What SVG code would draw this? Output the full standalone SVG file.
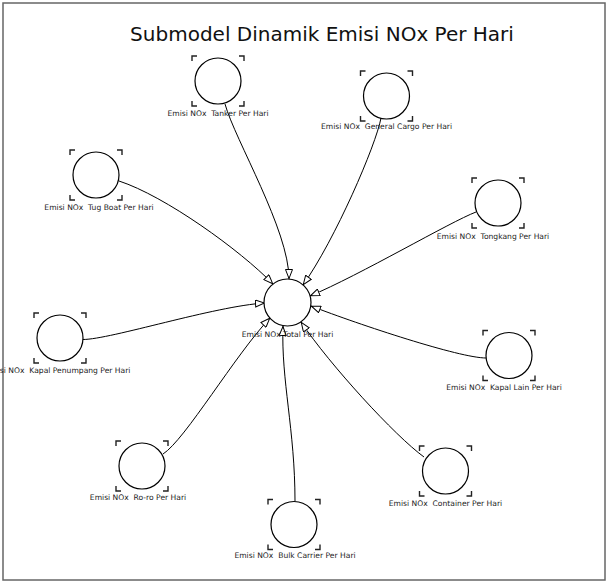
<svg xmlns="http://www.w3.org/2000/svg" xmlns:xlink="http://www.w3.org/1999/xlink" width="609" height="584" viewBox="0 0 609 584">
  <style>
    .frame { fill: none; stroke: #666666; stroke-width: 1.5; }
    .title { font-family: "DejaVu Sans", Verdana, sans-serif; font-size: 20px; fill: #111111; text-anchor: middle; }
    .aux { fill: #ffffff; stroke: #000000; stroke-width: 1.2; }
    .corner { fill: none; stroke: #222222; stroke-width: 1.4; }
    .label { font-family: "DejaVu Sans", Verdana, sans-serif; font-size: 7.6px; fill: #222222; text-anchor: middle; white-space: pre; }
    .link { fill: none; stroke: #000000; stroke-width: 1; }
  </style>
  <defs>
    <!-- hollow triangular arrowhead -->
    <marker id="arrow" viewBox="0 0 10 8" markerWidth="10" markerHeight="8" refX="10" refY="4" orient="auto" markerUnits="userSpaceOnUse">
      <path d="M0.5,0.5 L9.5,4 L0.5,7.5 Z" fill="#ffffff" stroke="#000000" stroke-width="1"/>
    </marker>
    <!-- corner marks around an auxiliary variable -->
    <path id="corners" class="corner" d="M-26,-20 V-25 H-21 M21,-25 H26 V-20 M-26,20 V25 H-21 M21,25 H26 V20"/>
  </defs>

  <rect class="frame" x="3" y="3" width="602" height="577"/>
  <text class="title" x="322" y="41">Submodel Dinamik Emisi NOx Per Hari</text>

  <g id="connectors">
    <path class="link" marker-end="url(#arrow)" d="M225,104 C235,140 289,230 289,279"/>
    <path class="link" marker-end="url(#arrow)" d="M381,118 C376,145 335,240 303,285"/>
    <path class="link" marker-end="url(#arrow)" d="M119,181 C165,196 240,250 273,284"/>
    <path class="link" marker-end="url(#arrow)" d="M476,212 C450,222 360,275 310,296"/>
    <path class="link" marker-end="url(#arrow)" d="M83,339.5 C110,339.5 215,306 265,303"/>
    <path class="link" marker-end="url(#arrow)" d="M486,358 C460,358 360,325 311,306"/>
    <path class="link" marker-end="url(#arrow)" d="M163,454 C185,440 235,355 270,318"/>
    <path class="link" marker-end="url(#arrow)" d="M295,501 C295,430 281,380 283,326"/>
    <path class="link" marker-end="url(#arrow)" d="M424,457 C395,436 330,365 301,322"/>
  </g>

  <g id="total" transform="translate(287.5,302.5)">
    <circle class="aux" r="23.5"/>
    <text class="label" x="0" y="34.5">Emisi NOx Total Per Hari</text>
  </g>

  <g id="tanker" transform="translate(218,81)">
    <circle class="aux" r="23"/>
    <use xlink:href="#corners"/>
    <text class="label" x="0" y="35" xml:space="preserve">Emisi NOx  Tanker Per Hari</text>
  </g>

  <g id="general-cargo" transform="translate(386.5,96)">
    <circle class="aux" r="23"/>
    <use xlink:href="#corners"/>
    <text class="label" x="0" y="33" xml:space="preserve">Emisi NOx  General Cargo Per Hari</text>
  </g>

  <g id="tug-boat" transform="translate(96,175)">
    <circle class="aux" r="23"/>
    <use xlink:href="#corners"/>
    <text class="label" x="3" y="35" xml:space="preserve">Emisi NOx  Tug Boat Per Hari</text>
  </g>

  <g id="tongkang" transform="translate(498,203)">
    <circle class="aux" r="23"/>
    <use xlink:href="#corners"/>
    <text class="label" x="-5" y="36" xml:space="preserve">Emisi NOx  Tongkang Per Hari</text>
  </g>

  <g id="kapal-penumpang" transform="translate(60,338)">
    <circle class="aux" r="23"/>
    <use xlink:href="#corners"/>
    <text class="label" x="-2" y="35" xml:space="preserve">Emisi NOx  Kapal Penumpang Per Hari</text>
  </g>

  <g id="kapal-lain" transform="translate(509,355.5)">
    <circle class="aux" r="23"/>
    <use xlink:href="#corners"/>
    <text class="label" x="-5" y="34.5" xml:space="preserve">Emisi NOx  Kapal Lain Per Hari</text>
  </g>

  <g id="ro-ro" transform="translate(142,466)">
    <circle class="aux" r="23"/>
    <use xlink:href="#corners"/>
    <text class="label" x="-4" y="34" xml:space="preserve">Emisi NOx  Ro-ro Per Hari</text>
  </g>

  <g id="bulk-carrier" transform="translate(294,524.5)">
    <circle class="aux" r="23"/>
    <use xlink:href="#corners"/>
    <text class="label" x="1" y="33.5" xml:space="preserve">Emisi NOx  Bulk Carrier Per Hari</text>
  </g>

  <g id="container" transform="translate(445.5,471)">
    <circle class="aux" r="23"/>
    <use xlink:href="#corners"/>
    <text class="label" x="0" y="35" xml:space="preserve">Emisi NOx  Container Per Hari</text>
  </g>
</svg>
